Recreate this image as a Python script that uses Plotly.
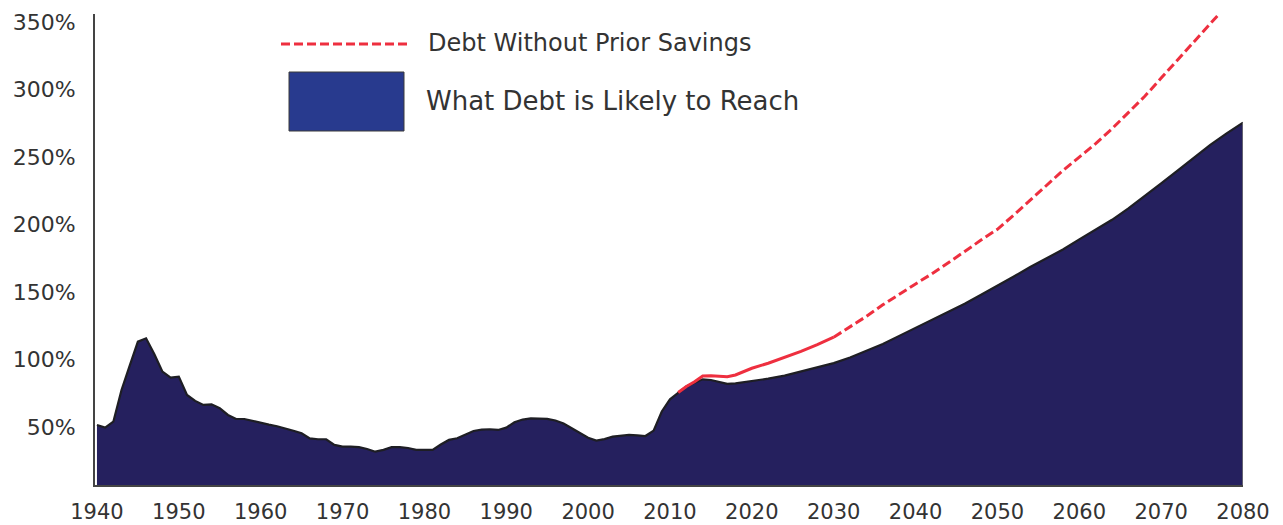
import plotly.graph_objects as go

# ---------------- data ----------------
hist_years = list(range(1940, 2018))
hist_debt = [51.5, 49.5, 53.9, 77.4, 95.5, 113.2, 115.7, 104.0, 91.0, 86.5,
             87.3, 73.7, 69.3, 66.3, 66.8, 63.9, 58.9, 55.9, 55.9, 54.5,
             52.7, 51.7, 50.5, 49.0, 47.2, 45.3, 41.5, 40.9, 40.9, 36.7,
             35.4, 35.4, 35.0, 33.7, 31.7, 33.0, 35.0, 35.0, 34.4, 33.0,
             33.0, 33.0, 37.0, 40.4, 41.6, 44.5, 47.0, 48.0, 48.3, 47.8,
             49.5, 53.5, 55.5, 56.4, 56.3, 56.0, 54.8, 52.5, 49.0, 45.5,
             42.0, 39.9, 41.0, 42.8, 43.5, 44.1, 43.8, 43.3, 47.3, 61.5,
             70.5, 75.5, 80.0, 82.8, 85.3, 84.8, 83.3, 81.9]

proj_years = [2018, 2020, 2022, 2024, 2026, 2028, 2030, 2032, 2034, 2036,
              2038, 2040, 2042, 2044, 2046, 2048, 2050, 2052, 2054, 2056,
              2058, 2060, 2062, 2064, 2066, 2068, 2070, 2072, 2074, 2076,
              2078, 2080]
proj_debt = [82.3, 84.0, 85.8, 88.0, 91.0, 94.3, 97.3, 101.5, 106.3, 111.5,
             117.5, 123.5, 129.0, 135.0, 141.3, 148.0, 154.5, 161.5, 168.5, 175.0,
             181.5, 189.0, 196.0, 203.5, 212.0, 221.0, 230.5, 240.0, 249.5, 259.0,
             267.5, 275.5]

nosave_years = [2011, 2012, 2013, 2014, 2015, 2016, 2017, 2018, 2019, 2020,
                2022, 2024, 2026, 2028, 2030, 2032, 2034, 2036, 2038, 2040,
                2042, 2044, 2046, 2048, 2050, 2052, 2054, 2056, 2058, 2060,
                2062, 2064, 2066, 2068, 2070, 2072, 2074, 2076, 2077]
nosave_debt = [75.5, 80.0, 83.5, 87.8, 88.0, 87.5, 87.3, 88.5, 90.8, 93.5,
               97.2, 101.5, 106.0, 111.0, 116.5, 124.0, 132.0, 140.5, 148.5, 156.0,
               163.5, 171.5, 180.0, 188.5, 196.5, 207.0, 218.0, 229.5, 240.0, 250.0,
               260.0, 271.0, 283.0, 295.0, 308.5, 322.0, 335.5, 349.0, 355.5]
solid_until = 2030

y_ticks = [50, 100, 150, 200, 250, 300, 350]
y_tick_labels = ["50%", "100%", "150%", "200%", "250%", "300%", "350%"]
x_ticks = list(range(1940, 2081, 10))
x_tick_labels = [str(v) for v in x_ticks]

legend_line_label = "Debt Without Prior Savings"
legend_area_label = "What Debt is Likely to Reach"

# ---------------- style ----------------
AREA = "#25205E"
OUTLINE = "#1E1E24"
RED = "#EE2F3F"
LEG_BLUE = "#283A8E"
TXT = "#333333"
FONT = "DejaVu Sans"

W, H = 1283, 525
ML, MR, MT, MB = 95, 40, 14, 40

all_years = hist_years + proj_years
all_debt = hist_debt + proj_debt

fig = go.Figure()
fig.add_trace(go.Scatter(
    x=all_years, y=all_debt, mode="lines", fill="tozeroy",
    fillcolor=AREA, line=dict(color=OUTLINE, width=2.2),
    showlegend=False, hoverinfo="skip"))
# right edge of the area
fig.add_trace(go.Scatter(
    x=[all_years[-1], all_years[-1]], y=[all_debt[-1], 0], mode="lines",
    line=dict(color="#777777", width=1.5), showlegend=False, hoverinfo="skip"))

i_split = nosave_years.index(solid_until)
fig.add_trace(go.Scatter(
    x=nosave_years[:i_split + 1], y=nosave_debt[:i_split + 1], mode="lines",
    line=dict(color=RED, width=3), showlegend=False, hoverinfo="skip"))
fig.add_trace(go.Scatter(
    x=nosave_years[i_split:], y=nosave_debt[i_split:], mode="lines",
    line=dict(color=RED, width=3, dash="9px,4px"), showlegend=False, hoverinfo="skip"))

pw = W - ML - MR
ph = H - MT - MB


def px(x):
    return (x - ML) / pw


def py(y):
    return 1 - (y - MT) / ph


shapes = [
    dict(type="line", xref="paper", yref="paper", x0=px(281), x1=px(409),
         y0=py(44), y1=py(44), line=dict(color=RED, width=3, dash="9px,4px")),
    dict(type="rect", xref="paper", yref="paper", x0=px(289), x1=px(404),
         y0=py(131), y1=py(72), fillcolor=LEG_BLUE,
         line=dict(color="#3a3a3a", width=1)),
]
annotations = [
    dict(xref="paper", yref="paper", x=px(426), y=py(43), xanchor="left",
         yanchor="middle", text=legend_line_label, showarrow=False,
         font=dict(family=FONT, size=24, color=TXT)),
    dict(xref="paper", yref="paper", x=px(424), y=py(101), xanchor="left",
         yanchor="middle", text=legend_area_label, showarrow=False,
         font=dict(family=FONT, size=26, color=TXT)),
]

fig.update_layout(
    width=W, height=H,
    margin=dict(l=ML, r=MR, t=MT, b=MB, autoexpand=False),
    paper_bgcolor="white", plot_bgcolor="white",
    shapes=shapes, annotations=annotations,
    xaxis=dict(range=[1939.76, 2080], tickmode="array", tickvals=x_ticks,
               ticktext=x_tick_labels, showgrid=False, zeroline=False,
               showline=True, linecolor="#444444", linewidth=2,
               ticks="", ticklabelstandoff=7, automargin=False,
               tickfont=dict(family=FONT, size=21, color=TXT)),
    yaxis=dict(range=[7.0, 356], tickmode="array", tickvals=y_ticks,
               ticktext=y_tick_labels, showgrid=False, zeroline=False,
               showline=True, linecolor="#444444", linewidth=2,
               ticks="", ticklabelstandoff=13, automargin=False,
               tickfont=dict(family=FONT, size=22, color=TXT)),
)

fig.write_html("out.html")
